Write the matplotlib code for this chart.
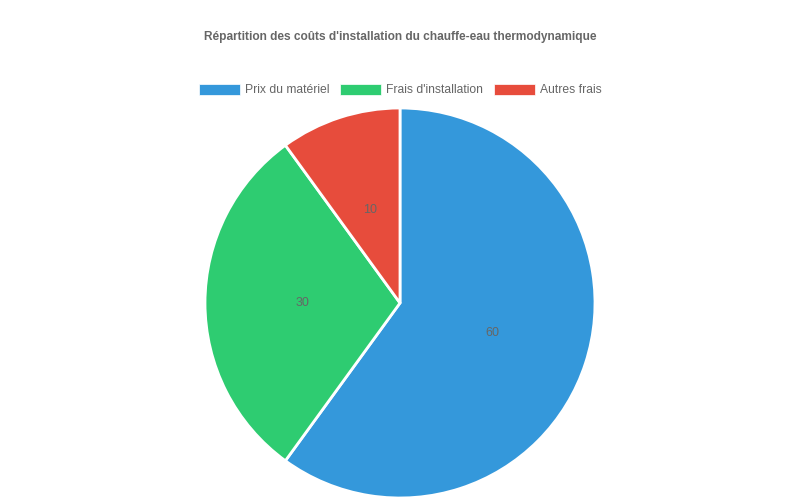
import matplotlib.pyplot as plt
from matplotlib.patches import Patch

plt.rcParams['font.family'] = ['Liberation Sans', 'DejaVu Sans']

labels = ['Prix du matériel', "Frais d'installation", 'Autres frais']
values = [60, 30, 10]
colors = ['#3498db', '#2ecc71', '#e74c3c']

fig = plt.figure(figsize=(8, 5), dpi=100)
ax = fig.add_axes([205 / 800, 2 / 500, 390 / 800, 390 / 500])

wedges, texts, autotexts = ax.pie(
    values, colors=colors, startangle=90, counterclock=False,
    autopct=lambda p: '%d' % round(p * sum(values) / 100),
    pctdistance=0.5, wedgeprops=dict(edgecolor='white', linewidth=2),
    textprops=dict(color='#666666', fontsize=9))
ax.set_xlim(-1, 1)
ax.set_ylim(-1, 1)
ax.axis('off')

fig.text(0.5, 1 - 37 / 500, "Répartition des coûts d'installation du chauffe-eau thermodynamique",
         ha='center', va='center', fontsize=8.6, fontweight='bold', color='#666666')

handles = [Patch(facecolor=c, edgecolor='white', linewidth=0.5) for c in colors]
fig.legend(handles, labels, loc='center', bbox_to_anchor=(0.5, 1 - 90 / 500),
           ncol=3, frameon=False, fontsize=8.7, labelcolor='#666666',
           handlelength=3.4, handleheight=1.0, handletextpad=0.4, columnspacing=0.9)

fig.savefig('out.png', dpi=100)
